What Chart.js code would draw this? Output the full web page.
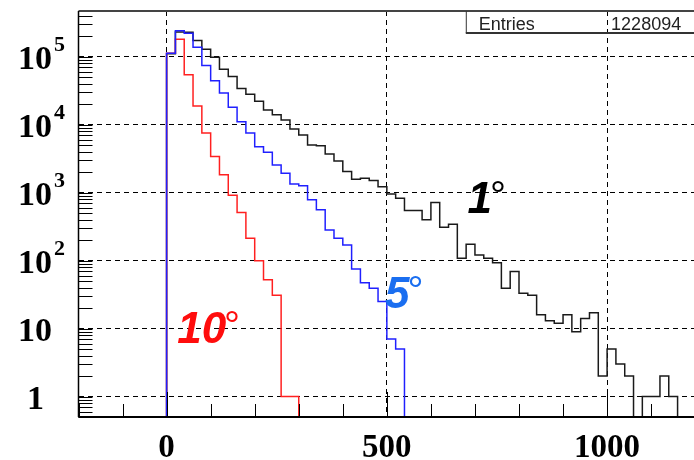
<!DOCTYPE html>
<html>
<head>
<meta charset="utf-8">
<title>Distance distribution</title>
<script src="https://cdn.jsdelivr.net/npm/chart.js@4.4.0/dist/chart.umd.min.js"></script>
<style>
  html, body { margin: 0; padding: 0; background: #fff; overflow: hidden; }
  #wrap { width: 700px; height: 460px; }
</style>
</head>
<body>
<div id="wrap"><canvas id="histChart" width="700" height="460"></canvas></div>
<script>
// histogram bins: 20 units wide, first bin starts at 0
var binStart = 0;
var binWidth = 20;

// bin contents
var counts1deg = [110000, 230000, 228000, 172000, 128000, 98000, 65000, 51000, 34000, 28000,
                  22000, 16400, 13900, 11700, 8600, 7000, 5000, 4900, 3700, 2900,
                  2040, 1570, 1630, 1500, 1220, 955, 828, 543, 543, 397,
                  713, 310, 343, 108, 174, 121, 108, 93, 39, 69,
                  33, 31, 16, 13, 12, 16, 9, 14, 17, 2,
                  5, 3, 2, 0, 1, 1, 2, 1];
var counts5deg = [112000, 239000, 220000, 137000, 74000, 44000, 29000, 18000, 11000, 7500,
                  4700, 3900, 2550, 1930, 1340, 1260, 781, 557, 282, 213,
                  170, 75, 47, 39, 25, 7, 5];
var counts10deg = [112000, 180000, 54000, 18800, 7500, 3400, 1820, 910, 508, 213,
                   99, 52, 31, 1, 1];

// axis ranges
var X_MIN = -200, X_MAX = 1200;
var Y_MIN = 0.5, Y_MAX = 4.68e5;

// tick labels
var xLabelValues = [0, 500, 1000];
var xLabelText = ['0', '500', '1000'];
var yLabelValues = [1, 10, 100, 1000, 10000, 100000];
var yLabelBase = ['1', '10', '10', '10', '10', '10'];
var yLabelExp = ['', '', '2', '3', '4', '5'];

// text in the plot
var angleText = ['1', '5', '10'];
var angleColor = ['#000000', '#1a6ef0', '#ff0d0d'];
var angleAtX = [683, 496, 24];
var angleAtY = [505, 20, 6.2];
var entriesLabel = 'Entries';
var entriesValue = '1228094';

// turn bin contents into a step outline
function histOutline(counts) {
  var pts = [{x: binStart, y: Y_MIN}];
  counts.forEach(function (c, i) {
    var lo = binStart + i * binWidth;
    var v = c > 0 ? c : Y_MIN;
    pts.push({x: lo, y: v});
    pts.push({x: lo + binWidth, y: v});
  });
  pts.push({x: binStart + counts.length * binWidth, y: Y_MIN});
  return pts;
}

function isDecade(v) {
  var l = Math.log10(v);
  return v >= 1 && Math.abs(l - Math.round(l)) < 1e-6;
}

var rootStyle = {
  id: 'rootStyle',
  afterDatasetsDraw: function (chart) {
    var ctx = chart.ctx, area = chart.chartArea;
    var xs = chart.scales.x, ys = chart.scales.y;
    ctx.save();

    // tick marks, inside the frame
    ctx.strokeStyle = '#000';
    ctx.lineWidth = 1;
    ctx.beginPath();
    for (var d = -1; d <= 5; d++) {
      for (var m = 1; m <= 9; m++) {
        var v = m * Math.pow(10, d);
        if (v < Y_MIN || v > Y_MAX) continue;
        var py = Math.round(ys.getPixelForValue(v)) + 0.5;
        ctx.moveTo(area.left, py);
        ctx.lineTo(area.left + 14, py);
      }
    }
    for (var x = X_MIN; x <= X_MAX; x += 100) {
      var px = Math.round(xs.getPixelForValue(x)) + 0.5;
      var len = x % 500 === 0 ? 25 : 13;
      ctx.moveTo(px, area.bottom);
      ctx.lineTo(px, area.bottom - len);
    }
    ctx.stroke();

    // frame
    ctx.strokeStyle = '#444';
    ctx.lineWidth = 2;
    ctx.beginPath();
    ctx.moveTo(area.left, area.top);
    ctx.lineTo(area.right, area.top);
    ctx.stroke();
    ctx.strokeStyle = '#000';
    ctx.lineWidth = 1.5;
    ctx.beginPath();
    ctx.moveTo(area.left, area.top);
    ctx.lineTo(area.left, area.bottom);
    ctx.stroke();
    ctx.lineWidth = 2;
    ctx.beginPath();
    ctx.moveTo(area.left, area.bottom);
    ctx.lineTo(area.right, area.bottom);
    ctx.stroke();

    // angle labels, with a light degree ring
    ctx.textAlign = 'left';
    ctx.textBaseline = 'alphabetic';
    angleText.forEach(function (t, i) {
      var tx = xs.getPixelForValue(angleAtX[i]);
      var ty = ys.getPixelForValue(angleAtY[i]);
      ctx.fillStyle = angleColor[i];
      ctx.font = 'italic bold 44px "Liberation Sans", Arial, sans-serif';
      ctx.fillText(t, tx, ty);
      var w = ctx.measureText(t).width;
      ctx.font = '40px "Liberation Sans", Arial, sans-serif';
      ctx.fillText('\u00b0', tx + w - 2, ty - 4);
    });

    // stats box
    var bx = area.left + 0.628 * area.width;
    var by = area.top;
    ctx.strokeStyle = '#333';
    ctx.lineWidth = 1;
    ctx.beginPath();
    ctx.moveTo(bx + 0.5, by);
    ctx.lineTo(bx + 0.5, by + 22);
    ctx.stroke();
    ctx.lineWidth = 2;
    ctx.beginPath();
    ctx.moveTo(bx, by + 22);
    ctx.lineTo(area.right, by + 22);
    ctx.stroke();
    ctx.fillStyle = '#222';
    ctx.font = '18px "Liberation Sans", Arial, sans-serif';
    ctx.fillText(entriesLabel, bx + 13, by + 19);
    ctx.fillText(entriesValue, xs.getPixelForValue(1000) + 4, by + 19);

    ctx.restore();
  },
  afterDraw: function (chart) {
    var ctx = chart.ctx, area = chart.chartArea;
    var xs = chart.scales.x, ys = chart.scales.y;
    ctx.save();
    ctx.fillStyle = '#000';
    ctx.textBaseline = 'alphabetic';

    // x labels
    ctx.font = 'bold 33px "Liberation Serif", "Times New Roman", serif';
    ctx.textAlign = 'center';
    xLabelValues.forEach(function (v, i) {
      ctx.fillText(xLabelText[i], xs.getPixelForValue(v), area.bottom + 40);
    });

    // y labels, 10 with a raised exponent
    yLabelValues.forEach(function (v, i) {
      var py = ys.getPixelForValue(v);
      ctx.font = 'bold 34px "Liberation Serif", "Times New Roman", serif';
      ctx.textAlign = 'right';
      var right = yLabelBase[i] === '1' ? 44 : 52;
      ctx.fillText(yLabelBase[i], right, py + 12);
      if (yLabelExp[i]) {
        ctx.font = 'bold 22px "Liberation Serif", "Times New Roman", serif';
        ctx.textAlign = 'left';
        ctx.fillText(yLabelExp[i], 54, py - 6);
      }
    });
    ctx.restore();
  }
};

var ctxHist = document.getElementById('histChart').getContext('2d');
var histChart = new Chart(ctxHist, {
  type: 'line',
  data: {
    datasets: [{
      label: '5 deg',
      data: histOutline(counts5deg),
      borderColor: '#2020ff',
      borderWidth: 1.5,
      order: 1
    }, {
      label: '10 deg',
      data: histOutline(counts10deg),
      borderColor: '#ff2020',
      borderWidth: 1.5,
      order: 2
    }, {
      label: '1 deg',
      data: histOutline(counts1deg),
      borderColor: '#1a1a1a',
      borderWidth: 1.5,
      order: 3
    }]
  },
  options: {
    responsive: false,
    animation: false,
    events: [],
    layout: { padding: { left: 78.5, top: 11, right: 4.8, bottom: 43 } },
    elements: {
      point: { radius: 0 },
      line: { tension: 0, fill: false }
    },
    plugins: {
      legend: { display: false },
      tooltip: { enabled: false }
    },
    scales: {
      x: {
        type: 'linear',
        min: X_MIN,
        max: X_MAX,
        ticks: { display: false, stepSize: 100 },
        border: { display: false, dash: [5, 4] },
        grid: {
          drawTicks: false,
          lineWidth: 1,
          color: function (c) {
            return c.tick && c.tick.value % 500 === 0 ? '#000' : 'rgba(0,0,0,0)';
          }
        }
      },
      y: {
        type: 'logarithmic',
        min: Y_MIN,
        max: Y_MAX,
        ticks: { display: false },
        border: { display: false, dash: [5, 4] },
        grid: {
          drawTicks: false,
          lineWidth: 1,
          color: function (c) {
            return c.tick && isDecade(c.tick.value) ? '#000' : 'rgba(0,0,0,0)';
          }
        }
      }
    }
  },
  plugins: [rootStyle]
});
</script>
</body>
</html>
